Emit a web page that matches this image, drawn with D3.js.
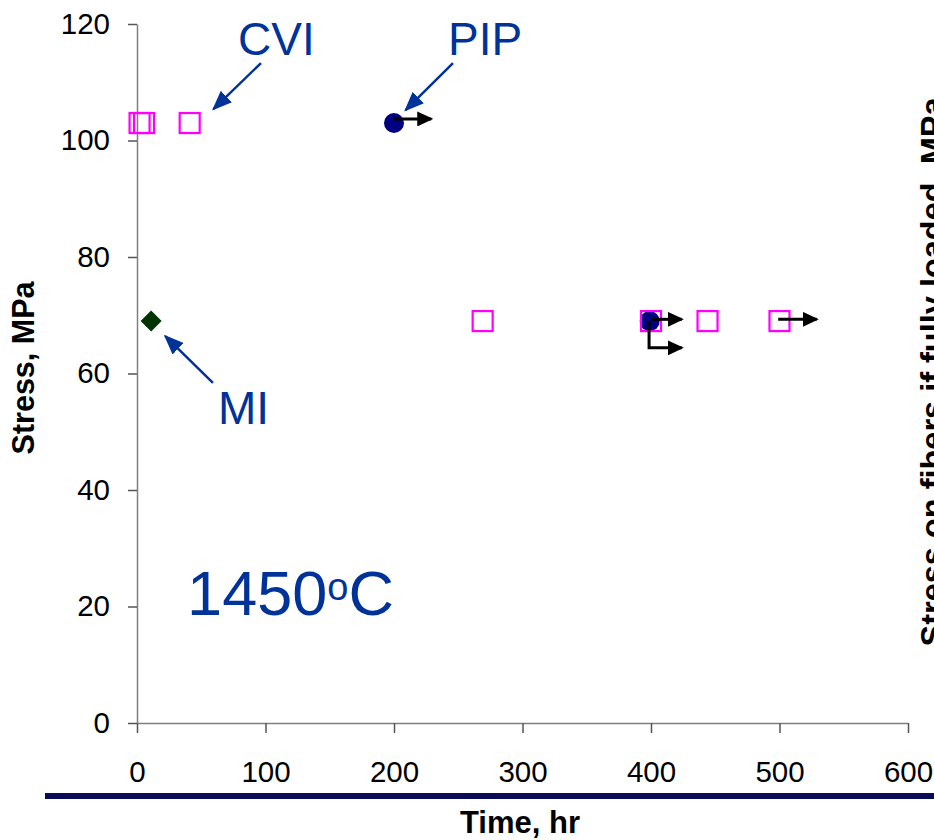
<!DOCTYPE html>
<html><head><meta charset="utf-8">
<script src="https://cdn.jsdelivr.net/npm/d3@7"></script>
<style>
body{margin:0;background:#fff}
svg{display:block}
text{font-family:"Liberation Sans",Arial,Helvetica,sans-serif}
</style>
</head><body>
<svg id="c" width="934" height="840"></svg>
<script>
// ---- data ----
const xTicks = [0, 100, 200, 300, 400, 500, 600];
const yTicks = [0, 20, 40, 60, 80, 100, 120];
const cviTime   = [2, 5.5, 41, 269, 400, 444, 500];
const cviStress = [103, 103, 103, 69, 69, 69, 69];
const pipTime   = [200, 399];
const pipStress = [103, 69];
const miTime    = [11];
const miStress  = [69];
// run-out (test still running) arrows, as polylines in (time, stress)
const runoutArrows = [
  [[200, 103.7], [229, 103.7]],
  [[400, 69.3], [424, 69.3]],
  [[398.5, 69], [398.5, 64.4], [424, 64.4]],
  [[499, 69.3], [529, 69.3]]
];
// process labels and their pointer arrows
const labelText   = ["CVI", "PIP", "MI"];
const labelTime   = [78.6, 242, 63];
const labelStress = [114.7, 114.7, 51.4];
const pointerFrom = [[96.5, 113.3], [245.9, 113.3], [59.1, 58.4]];
const pointerTo   = [[59.5, 105.4], [209, 105.2], [22, 66.4]];
const tempLabel = {main: "1450", sup: "o", unit: "C", time: 39, stress: 18.5};

// ---- layout ----
const svg = d3.select("#c");
const x = d3.scaleLinear().domain([0, 600]).range([137, 908]);
const y = d3.scaleLinear().domain([0, 120]).range([723, 24]);
const blue = "#003399";

const defs = svg.append("defs");
defs.append("marker").attr("id", "ah-black")
  .attr("markerUnits", "userSpaceOnUse").attr("viewBox", "0 0 16 15")
  .attr("markerWidth", 16).attr("markerHeight", 15)
  .attr("refX", 14).attr("refY", 7.5).attr("orient", "auto")
  .append("path").attr("d", "M0,0L16,7.5L0,15Z").attr("fill", "#000");
defs.append("marker").attr("id", "ah-blue")
  .attr("markerUnits", "userSpaceOnUse").attr("viewBox", "0 0 20 16")
  .attr("markerWidth", 20).attr("markerHeight", 16)
  .attr("refX", 18).attr("refY", 8).attr("orient", "auto")
  .append("path").attr("d", "M0,0L20,8L0,16Z").attr("fill", blue);

// axes
const xAxis = svg.append("g").attr("transform", `translate(0,${y(0)})`)
  .call(d3.axisBottom(x).tickValues(xTicks).tickSize(10).tickSizeOuter(0).tickPadding(28));
const yAxis = svg.append("g").attr("transform", `translate(${x(0)},0)`)
  .call(d3.axisLeft(y).tickValues(yTicks).tickSize(9).tickSizeOuter(0).tickPadding(18));
[xAxis, yAxis].forEach(g => {
  g.select(".domain").attr("stroke", "#808080").attr("stroke-width", 1.5);
  g.selectAll(".tick line").attr("stroke", "#555").attr("stroke-width", 1.5);
  g.selectAll(".tick text").attr("font-size", 29.5).attr("fill", "#000")
    .attr("font-family", '"Liberation Sans",Arial,sans-serif');
});

// navy separator band
svg.append("rect").attr("x", 45).attr("y", 793).attr("width", 889).attr("height", 6).attr("fill", "#0b0b5c");

// axis titles
svg.append("text").attr("x", 520).attr("y", 833).attr("text-anchor", "middle")
  .attr("font-size", 31).attr("font-weight", "bold").text("Time, hr");
svg.append("text").attr("transform", "translate(34,368) rotate(-90)").attr("text-anchor", "middle")
  .attr("font-size", 30.5).attr("font-weight", "bold").text("Stress, MPa");
svg.append("text").attr("transform", "translate(944,372) rotate(-90)").attr("text-anchor", "middle")
  .attr("font-size", 32.5).attr("font-weight", "bold").text("Stress on fibers if fully loaded, MPa");

// PIP circles
svg.append("g").selectAll("circle").data(pipTime).join("circle")
  .attr("cx", (d, i) => x(d)).attr("cy", (d, i) => y(pipStress[i])).attr("r", 10)
  .attr("fill", "#000080");

// CVI squares
svg.append("g").selectAll("rect").data(cviTime).join("rect")
  .attr("x", d => x(d) - 10).attr("y", (d, i) => y(cviStress[i]) - 10)
  .attr("width", 20).attr("height", 20)
  .attr("fill", "none").attr("stroke", "#ff00ff").attr("stroke-width", 2.2);

// MI diamonds
svg.append("g").selectAll("path").data(miTime).join("path")
  .attr("d", (d, i) => { const cx = x(d), cy = y(miStress[i]), r = 10.5;
    return `M${cx},${cy - r}L${cx + r},${cy}L${cx},${cy + r}L${cx - r},${cy}Z`; })
  .attr("fill", "#003300");

// run-out arrows
const line = d3.line().x(d => x(d[0])).y(d => y(d[1]));
svg.append("g").selectAll("path").data(runoutArrows).join("path")
  .attr("d", line).attr("fill", "none").attr("stroke", "#000").attr("stroke-width", 3)
  .attr("marker-end", "url(#ah-black)");

// process labels
svg.append("g").selectAll("text").data(labelText).join("text")
  .attr("x", (d, i) => x(labelTime[i])).attr("y", (d, i) => y(labelStress[i]))
  .attr("font-size", 46).attr("fill", blue).text(d => d);
svg.append("g").selectAll("line").data(pointerFrom).join("line")
  .attr("x1", d => x(d[0])).attr("y1", d => y(d[1]))
  .attr("x2", (d, i) => x(pointerTo[i][0])).attr("y2", (d, i) => y(pointerTo[i][1]))
  .attr("stroke", blue).attr("stroke-width", 2.5).attr("marker-end", "url(#ah-blue)");

// temperature label
const t = svg.append("text").attr("x", x(tempLabel.time)).attr("y", y(tempLabel.stress))
  .attr("font-size", 63).attr("fill", blue);
t.append("tspan").text(tempLabel.main);
t.append("tspan").attr("font-size", 38).attr("dy", -15).text(tempLabel.sup);
t.append("tspan").attr("dy", 15).text(tempLabel.unit);
</script>
</body></html>
